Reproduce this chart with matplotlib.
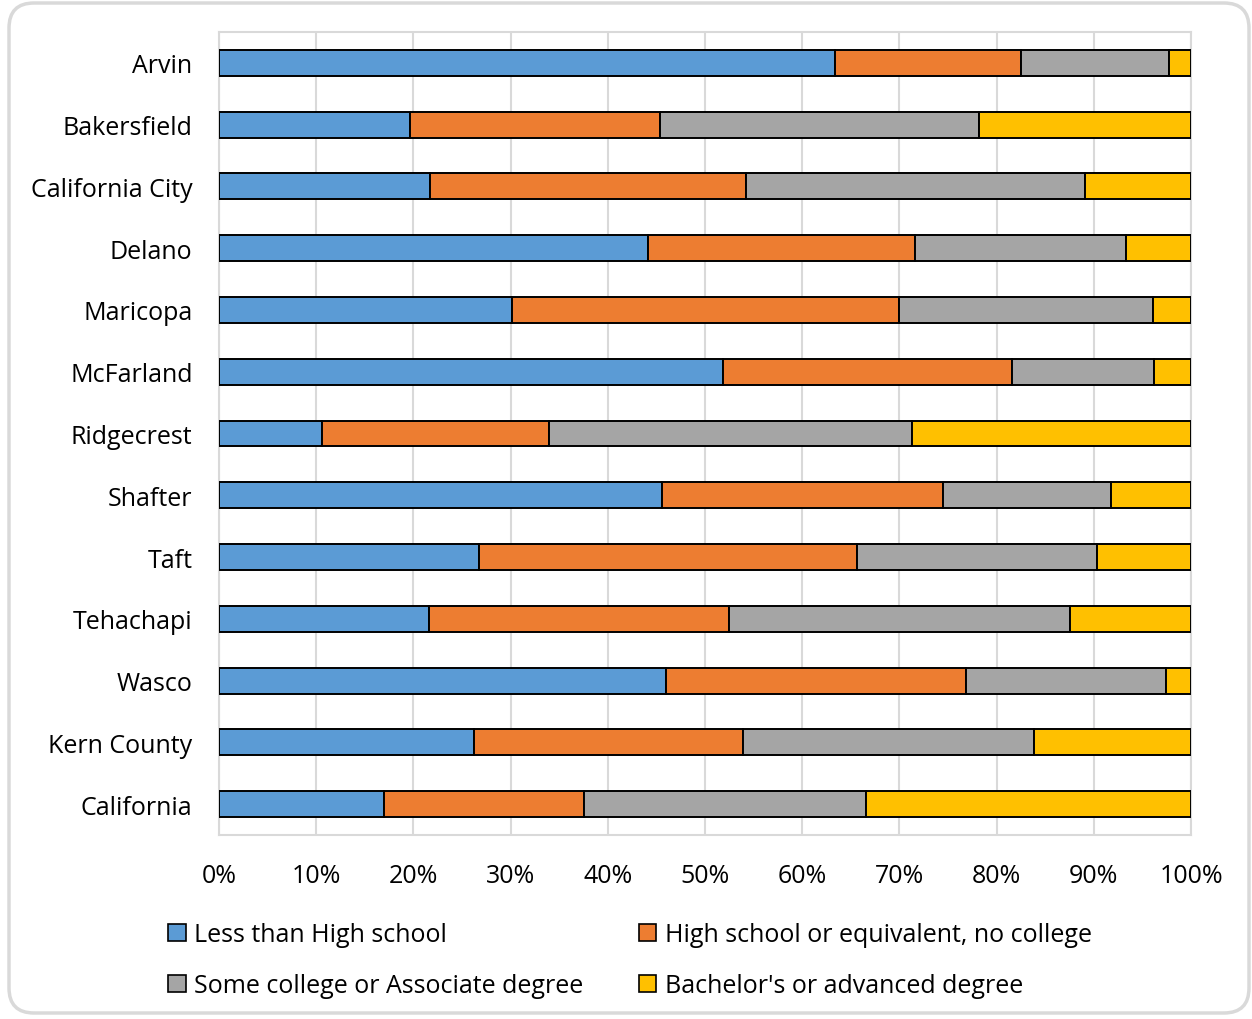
import matplotlib
matplotlib.use("Agg")
import matplotlib.pyplot as plt
from matplotlib.patches import FancyBboxPatch, Patch
import numpy as np

plt.rcParams['font.family'] = ['Open Sans', 'DejaVu Sans']

categories = ["Arvin", "Bakersfield", "California City", "Delano", "Maricopa",
              "McFarland", "Ridgecrest", "Shafter", "Taft", "Tehachapi",
              "Wasco", "Kern County", "California"]
less_than_hs = [63.4, 19.6, 21.7, 44.1, 30.1, 51.9, 10.6, 45.6, 26.7, 21.6, 46.0, 26.2, 17.0]
hs_no_college = [19.1, 25.8, 32.5, 27.5, 39.9, 29.7, 23.3, 28.9, 38.9, 30.9, 30.9, 27.7, 20.6]
some_college = [15.2, 32.8, 34.9, 21.7, 26.1, 14.6, 37.4, 17.3, 24.7, 35.1, 20.5, 29.9, 29.0]
bachelors = [2.3, 21.8, 10.9, 6.7, 3.9, 3.8, 28.7, 8.2, 9.7, 12.4, 2.6, 16.2, 33.4]
series_names = ["Less than High school", "High school or equivalent, no college",
                "Some college or Associate degree", "Bachelor's or advanced degree"]
colors = ["#5B9BD5", "#ED7D31", "#A5A5A5", "#FFC000"]
xticks = [0, 10, 20, 30, 40, 50, 60, 70, 80, 90, 100]

W, H = 1252, 1020
FS = 18
fig = plt.figure(figsize=(W / 100, H / 100), dpi=100)

# rounded frame
frame = FancyBboxPatch((9 / W, 6 / H), (1240 / W), (1010 / H),
                       boxstyle="round,pad=0,rounding_size=0.02",
                       transform=fig.transFigure, facecolor="white",
                       edgecolor="#D9D9D9", linewidth=2.5, zorder=-10,
                       mutation_aspect=W / H)
fig.patches.append(frame)

ax = fig.add_axes([219 / W, 1 - 836 / H, (1191 - 219) / W, (836 - 33) / H])
ax.set_zorder(5)
ax.set_facecolor("none")

data = [less_than_hs, hs_no_college, some_college, bachelors]
y = np.arange(len(categories))
left = np.zeros(len(categories))
handles = []
for vals, name, c in zip(data, series_names, colors):
    v = np.array(vals)
    ax.barh(y, v, left=left, height=0.42, color=c, edgecolor="black",
            linewidth=1.4, label=name, zorder=3)
    left += v
    handles.append(Patch(facecolor=c, edgecolor="black", linewidth=1.2, label=name))

ax.set_xlim(0, 100)
ax.set_ylim(len(categories) - 0.5, -0.5)
ax.set_yticks(y)
ax.set_yticklabels(categories, fontsize=FS)
ax.set_xticks(xticks)
ax.set_xticklabels([f"{t}%" for t in xticks], fontsize=FS)
ax.tick_params(axis="both", length=0, colors="black")
ax.tick_params(axis="x", pad=20)
ax.tick_params(axis="y", pad=19)
ax.xaxis.grid(True, color="#D9D9D9", linewidth=1.5, zorder=0)
ax.set_axisbelow(True)
for s in ax.spines.values():
    s.set_color("#D9D9D9")
    s.set_linewidth(1.5)

order = [0, 2, 1, 3]
leg = fig.legend([handles[i] for i in order], [series_names[i] for i in order],
                 ncol=2, loc="upper left", bbox_to_anchor=(168 / W, 1 - 923 / H),
                 frameon=False, fontsize=FS, handlelength=0.7, handleheight=0.7,
                 handletextpad=0.35, columnspacing=2.2, labelspacing=1.05,
                 borderaxespad=0, borderpad=0)
leg.set_zorder(6)

fig.savefig("out.png", dpi=100, facecolor="white")
